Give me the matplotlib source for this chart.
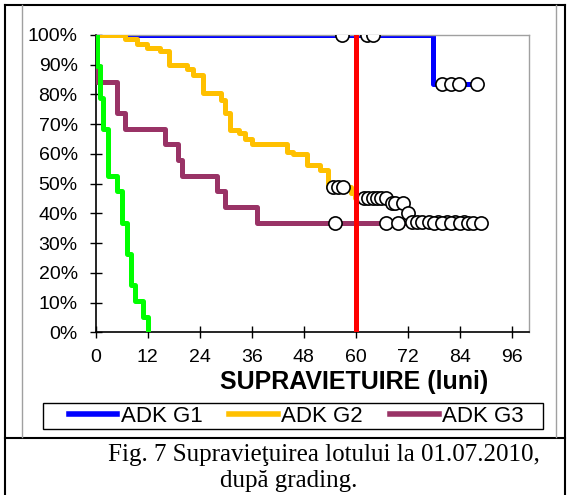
import matplotlib.pyplot as plt
from matplotlib.lines import Line2D
from matplotlib.patches import Rectangle
from matplotlib.ticker import PercentFormatter

plt.rcParams['font.family'] = ['Liberation Sans', 'DejaVu Sans']

# step curves: time of each step (months) and survival after it
g1_t = [0, 77.9, 87.9]
g1_s = [1.0, 0.833, 0.833]
g1_cens_t = [56.8, 62.7, 63.9, 79.8, 81.9, 83.9, 87.9]
g1_cens_s = [1.0, 1.0, 1.0, 0.833, 0.833, 0.833, 0.833]

g2_t = [0, 6.8, 9.6, 11.8, 14.8, 16.8, 21.0, 22.5, 24.8, 29.0, 29.8, 31.0, 33.0,
        34.5, 36.0, 44.1, 45.6, 48.7, 51.8, 53.7, 58.8, 59.8, 67.5, 71.5, 72.5, 85.0]
g2_s = [1.0, 0.985, 0.97, 0.955, 0.944, 0.898, 0.886, 0.865, 0.805, 0.78, 0.736, 0.68, 0.669,
        0.65, 0.633, 0.607, 0.598, 0.562, 0.545, 0.487, 0.468, 0.45, 0.434, 0.40, 0.37, 0.37]
g2_cens_t = [54.8, 56.0, 57.0, 61.8, 62.9, 63.9, 64.8, 65.8, 67.0, 68.3, 69.1, 71.0, 72.1,
             72.9, 74.1, 75.2, 77.0, 79.0, 81.0, 83.0, 85.0]
g2_cens_s = [0.487, 0.487, 0.487, 0.45, 0.45, 0.45, 0.45, 0.45, 0.45, 0.434, 0.434, 0.434, 0.40,
             0.37, 0.37, 0.37, 0.37, 0.37, 0.37, 0.37, 0.37]

g3_t = [0, 0.2, 4.8, 6.8, 16.0, 19.1, 19.8, 27.9, 29.8, 37.2, 88.8]
g3_s = [1.0, 0.842, 0.737, 0.684, 0.632, 0.579, 0.526, 0.474, 0.421, 0.368, 0.368]
g3_cens_t = [55.2, 67.0, 69.8, 78.0, 80.0, 82.0, 84.0, 86.0, 87.0, 88.8]
g3_cens_s = [0.368] * 10

g4_t = [0, 0.3, 1.0, 1.75, 2.75, 4.8, 6.0, 7.15, 8.1, 9.1, 11.0, 12.0]
g4_s = [1.0, 0.895, 0.789, 0.684, 0.526, 0.474, 0.368, 0.263, 0.158, 0.105, 0.053, 0.0]

labels = ['ADK G1', 'ADK G2', 'ADK G3']
cut_month = 60

W, H = 568, 495
fig = plt.figure(figsize=(5.68, 4.95), dpi=100)
ax = fig.add_axes([0.1685, 0.3287, 0.763, 0.601])

lw = 3.6
ax.plot(g1_t, g1_s, drawstyle='steps-post', color='#0000FF', lw=lw, label=labels[0], zorder=2)
ax.plot(g2_t, g2_s, drawstyle='steps-post', color='#FFC000', lw=lw, label=labels[1], zorder=3)
ax.plot(g3_t, g3_s, drawstyle='steps-post', color='#993366', lw=lw, label=labels[2], zorder=4)
ax.plot(g4_t, g4_s, drawstyle='steps-post', color='#00FF00', lw=lw, zorder=5)

for ct, cs in [(g1_cens_t, g1_cens_s), (g2_cens_t, g2_cens_s), (g3_cens_t, g3_cens_s)]:
    ax.plot(ct, cs, 'o', ms=9.5, mfc='white', mec='black', mew=1.2, zorder=6)

ax.axvline(cut_month, color='#FF0000', lw=lw, zorder=7)

ax.set_xlim(0, 100)
ax.set_ylim(0, 1)
ax.set_xticks(range(0, 97, 12))
ax.set_yticks([i / 10 for i in range(11)])
ax.yaxis.set_major_formatter(PercentFormatter(1.0, decimals=0))
ax.tick_params(direction='inout', length=8, width=1, labelsize=14)
ax.tick_params(axis='y', pad=9)
ax.tick_params(axis='x', pad=8)
for s in ['top', 'right']:
    ax.spines[s].set_color('#A0A0A0')
    ax.spines[s].set_linewidth(1)
for s in ['left', 'bottom']:
    ax.spines[s].set_linewidth(1.2)

fig.text(354 / W, 1 - 382 / H, 'SUPRAVIETUIRE (luni)', fontsize=18, fontweight='bold',
         ha='center', va='center')

# legend box drawn separately so its padding matches
fig.add_artist(Rectangle((43 / W, 1 - 429 / H), 500 / W, 26 / H, transform=fig.transFigure,
                         fill=False, ec='black', lw=1))
leg = fig.legend(loc='center', bbox_to_anchor=(296 / W, 1 - 416 / H), ncol=3, fontsize=16,
                 handlelength=2.2, handletextpad=0.15, columnspacing=1.2, borderpad=0.1,
                 frameon=False)
for h in leg.legend_handles:
    h.set_linewidth(4)

# page frame around the chart and caption (open at the bottom)
def fig_line(x, y, color, lw):
    fig.add_artist(Line2D([v / W for v in x], [1 - v / H for v in y], transform=fig.transFigure,
                          color=color, lw=lw))


fig_line([5, 565], [5, 5], 'black', 1.5)
fig_line([5, 5], [5, 495], 'black', 1.5)
fig_line([565, 565], [5, 495], 'black', 1.5)
fig_line([5, 565], [438, 438], 'black', 1.5)
fig_line([22, 22], [5, 437], '#A0A0A0', 1)
fig_line([556, 556], [5, 437], '#A0A0A0', 1)

fig.text(108 / W, 1 - 455 / H, 'Fig. 7 Supravieţuirea lotului la 01.07.2010,',
         family='Liberation Serif', fontsize=18, va='center', ha='left')
fig.text(220 / W, 1 - 481 / H, 'după grading.',
         family='Liberation Serif', fontsize=18, va='center', ha='left')

fig.savefig('out.png', dpi=100)
